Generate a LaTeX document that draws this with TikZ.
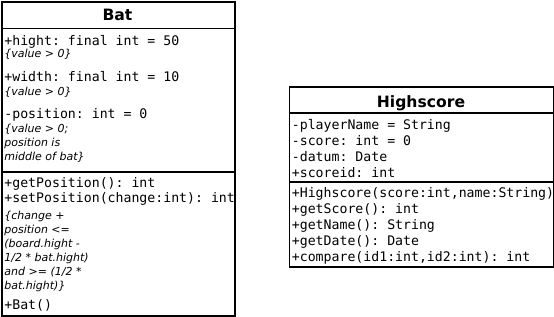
\documentclass[tikz,border=0pt]{standalone}
\usepackage{fontspec}
\setmainfont{DejaVu Sans}
\setmonofont{DejaVu Sans Mono}
\usetikzlibrary{positioning}
\tikzset{
  every picture/.style={x=1pt, y=-1pt, line width=1.8pt},
  classbox/.style={draw=black, anchor=north west, inner sep=0pt},
  classname/.style={anchor=base, inner sep=0pt, font=\fontsize{15.6}{18}\selectfont\bfseries},
  member/.style={anchor=base west, inner sep=0pt, font=\fontsize{13.2}{16}\selectfont\ttfamily},
  constraint/.style={anchor=base west, inner sep=0pt, font=\fontsize{11}{13}\selectfont\itshape},
}

\begin{document}
\begin{tikzpicture}
  \useasboundingbox (0,0) rectangle (554,316);
  % class Bat
  \node[classbox, minimum width=233, minimum height=314] (bat) at (1,1) {};
  \node[classname] (batname) at (117.5,20) {Bat};
  \begin{scope}
    \clip (bat.north west) rectangle (bat.south east);
    \foreach \i/\y/\t in {1/45/{+hight: final int = 50},
                          2/81.5/{+width: final int = 10},
                          3/118/{-position: int = 0},
                          4/187/{+getPosition(): int},
                          5/202/{+setPosition(change:int): int},
                          6/309.5/{+Bat()}}
      \node[member] (batm\i) at (3.5,\y) {\t};
    \foreach \i/\y/\t in {1/57.5/{\{value > 0\}},
                          2/95/{\{value > 0\}},
                          3/132.5/{\{value > 0;},
                          4/146.8/{position is},
                          5/160.8/{middle of bat\}},
                          6/219.8/{\{change +},
                          7/233.5/{position <=},
                          8/247.5/{(board.hight -},
                          9/261.5/{1/2 * bat.hight)},
                          10/275/{and >= (1/2 *},
                          11/289.3/{bat.hight)\}}}
      \node[constraint] (batc\i) at (3.5,\y) {\t};
  \end{scope}
  \draw ([yshift=-27.5pt]bat.north west) -- ([yshift=-27.5pt]bat.north east);
  \draw ([yshift=-171pt]bat.north west) -- ([yshift=-171pt]bat.north east);

  % class Highscore
  \node[classbox, minimum width=264, minimum height=180.3] (hs) at (288.5,85.7) {};
  \node[classname] (hsname) at (421,107) {Highscore};
  \begin{scope}
    \clip (hs.north west) rectangle (hs.south east);
    \foreach \i/\y/\t in {1/129/{-playerName = String},
                          2/145/{-score: int = 0},
                          3/161/{-datum: Date},
                          4/177/{+scoreid: int},
                          5/197.5/{+Highscore(score:int,name:String)},
                          6/213.3/{+getScore(): int},
                          7/229.3/{+getName(): String},
                          8/245/{+getDate(): Date},
                          9/261/{+compare(id1:int,id2:int): int}}
      \node[member] (hsm\i) at (291,\y) {\t};
  \end{scope}
  \draw ([yshift=-27.6pt]hs.north west) -- ([yshift=-27.6pt]hs.north east);
  \draw ([yshift=-96pt]hs.north west) -- ([yshift=-96pt]hs.north east);
\end{tikzpicture}
\end{document}
